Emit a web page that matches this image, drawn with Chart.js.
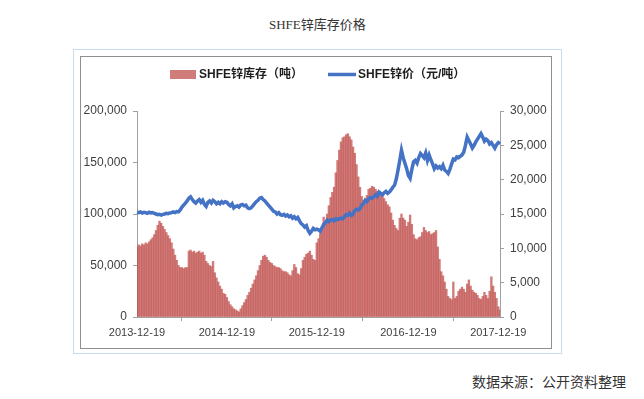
<!DOCTYPE html>
<html>
<head>
<meta charset="utf-8">
<script src="https://cdn.jsdelivr.net/npm/chart.js@4/dist/chart.umd.min.js"></script>
<style>
  body { margin: 0; background: #fff; }
  #page { position: relative; width: 644px; height: 399px; overflow: hidden; background: #fff; }
  #title { position: absolute; left: 269px; top: 17px; font: 13px/16px 'Liberation Serif', 'Noto Sans CJK SC', serif; color: #333; white-space: nowrap; }
  #source { position: absolute; right: 18px; top: 373px; font: 14px/16px 'Noto Sans CJK SC', sans-serif; color: #333; white-space: nowrap; }
  #outer { position: absolute; left: 73px; top: 49px; width: 489px; height: 305px; box-sizing: border-box; border: 1px solid #c9dcee; }
  #inner { position: absolute; left: 80px; top: 56px; width: 472px; height: 293px; box-sizing: border-box; border: 1px solid #8f8f8f; }
  #chartBox { position: absolute; left: 81px; top: 57px; width: 470px; height: 291px; }
</style>
</head>
<body>
<div id="page">
  <div id="title">SHFE锌库存价格</div>
  <div id="outer"></div>
  <div id="inner"></div>
  <div id="chartBox"><canvas id="zincChart" width="470" height="291"></canvas></div>
  <div id="source">数据来源：公开资料整理</div>
</div>
<script>
// weekly readings, 2013-12-19 .. 2017-12-19
let stockTons = [
  68000, 70000, 69000, 71000, 70000, 72000, 71000, 73000, 75000, 77000,
  80000, 84000, 89000, 93000, 91000, 88000, 85000, 82000, 79000, 76000,
  72000, 66000, 60000, 55000, 50000, 48000, 48000, 47000, 48000, 48000,
  64000, 65000, 63000, 64000, 62000, 63000, 64000, 62000, 63000, 60000,
  54000, 52000, 50000, 49000, 54000, 43000, 38000, 34000, 30000, 27000,
  23000, 22000, 19000, 15000, 12000, 10000, 8000, 7000, 6000, 5000,
  8000, 11000, 14000, 17000, 21000, 24000, 28000, 32000, 36000, 40000,
  45000, 50000, 55000, 59000, 60000, 58000, 55000, 53000, 52000, 50000,
  49000, 48000, 48000, 47000, 45000, 44000, 44000, 43000, 41000, 40000,
  45000, 51000, 48000, 42000, 41000, 47000, 55000, 58000, 61000, 62000,
  64000, 60000, 56000, 55000, 72000, 76000, 81000, 85000, 97000, 91000,
  100000, 108000, 116000, 121000, 126000, 140000, 152000, 162000, 170000, 174000,
  175000, 177000, 178000, 175000, 172000, 165000, 159000, 148000, 136000, 126000,
  117000, 113000, 110000, 118000, 124000, 125000, 127000, 126000, 124000, 122000,
  121000, 119000, 117000, 115000, 112000, 109000, 107000, 101000, 94000, 89000,
  86000, 84000, 96000, 100000, 96000, 94000, 88000, 92000, 99000, 90000,
  80000, 76000, 75000, 77000, 78000, 82000, 87000, 84000, 82000, 83000,
  80000, 81000, 82000, 84000, 68000, 56000, 44000, 40000, 34000, 27000,
  20000, 18000, 17000, 34000, 18000, 20000, 25000, 27000, 29000, 27000,
  24000, 32000, 36000, 30000, 26000, 24000, 23000, 21000, 18000, 17000,
  20000, 24000, 21000, 18000, 25000, 39000, 30000, 24000, 18000, 10000,
  7000
];

let priceYuan = [
  15250, 15200, 15300, 15150, 15250, 15200, 15100, 15250, 15150, 15200,
  15100, 15000, 14900, 14950, 14850, 14950, 15000, 15100, 15050, 15150,
  15200, 15300, 15200, 15350, 15300, 15600, 16000, 16300, 16600, 16900,
  17300, 17500, 17100, 16800, 16600, 16900, 17100, 16700, 17000, 16400,
  16100, 16700, 16900, 16600, 17000, 16800, 16500, 16700, 16500, 16800,
  16600, 16800, 16700, 16400, 16200, 16500, 15900, 16100, 16200, 16000,
  16300, 16400, 16200, 16300, 15900, 15800, 15900, 16200, 16500, 16800,
  17000, 17300, 17400, 17100, 16900, 16600, 16300, 16000, 15700, 15400,
  15300, 15000, 15200, 14900, 14800, 14950, 14700, 14850, 14600, 14750,
  14400, 14600, 14300, 14500, 14000, 13600, 13400, 13100, 13300, 12600,
  12200, 12500, 12900, 12700, 12800, 12700, 12500, 13000, 13500, 13700,
  14100, 13900, 14100, 14200, 14000, 14300, 14200, 14300, 14400, 14300,
  14600, 14900, 14800, 15100, 14800, 15000, 15500, 15700, 15600, 15800,
  16300, 16500, 17000, 16800, 17200, 17400, 17300, 17500, 17800, 17600,
  18200, 18000, 17800, 18100, 18300, 18000, 18200, 18500, 18900, 19200,
  20100, 21400, 22800, 24300, 23200, 22400, 21600, 20600, 20200, 21500,
  22600, 22800, 22400, 23200, 23800, 23500, 23200, 23900, 22800, 23600,
  22900, 22300, 21600, 22000, 21700, 21900, 21600, 22100, 21400, 21200,
  20900, 21500, 22300, 23000, 22900, 23300, 23200, 23400, 23600, 24000,
  25000, 26200, 25700, 25200, 24600, 25000, 25500, 25900, 26300, 26700,
  26200, 25600, 25900, 25700, 25200, 25400, 25000, 24600, 25100, 25400,
  25200
];

let tickLabels = ['2013-12-19', '2014-12-19', '2015-12-19', '2016-12-19', '2017-12-19'];
let tickWeeks = [0, 52, 104, 157, 209];

let weeks = [];
let start = new Date(Date.UTC(2013, 11, 19));
for (let i = 0; i < stockTons.length; i++) {
  let d = new Date(start.getTime() + i * 7 * 86400000);
  weeks.push(d.toISOString().slice(0, 10));
}

const stockColor = 'rgba(192, 80, 77, 0.75)';
const priceColor = '#4472C4';
const axisColor = '#a0a0a0';
const tickFont = "'Liberation Sans', Arial, sans-serif";

// legend drawn by hand: red box + blue line across the top
const topLegend = {
  id: 'topLegend',
  afterDraw(chart) {
    let ctx = chart.ctx;
    let sets = chart.data.datasets;
    ctx.save();
    ctx.fillStyle = stockColor;
    ctx.fillRect(89, 13, 26, 9);
    ctx.strokeStyle = priceColor;
    ctx.lineWidth = 3.5;
    ctx.beginPath();
    ctx.moveTo(247, 17.5);
    ctx.lineTo(275, 17.5);
    ctx.stroke();
    ctx.fillStyle = '#1e1e1e';
    ctx.font = "bold 12px 'Liberation Sans', Arial, 'Noto Sans CJK SC', sans-serif";
    ctx.textBaseline = 'middle';
    ctx.fillText(sets[0].label, 118, 18);
    ctx.fillText(sets[1].label, 277, 18);
    ctx.restore();
  }
};

let zinc = document.getElementById('zincChart').getContext('2d');
let zincChart = new Chart(zinc, {
  type: 'bar',
  data: {
    labels: weeks,
    datasets: [{
      type: 'bar',
      label: 'SHFE锌库存（吨）',
      data: stockTons,
      backgroundColor: stockColor,
      borderWidth: 0,
      barPercentage: 1,
      categoryPercentage: 1,
      yAxisID: 'y',
      order: 2
    }, {
      type: 'line',
      label: 'SHFE锌价（元/吨）',
      data: priceYuan,
      borderColor: priceColor,
      borderWidth: 3.5,
      pointRadius: 0,
      tension: 0,
      yAxisID: 'y1',
      order: 1
    }]
  },
  options: {
    responsive: false,
    animation: false,
    devicePixelRatio: 1,
    layout: { padding: { top: 54, left: 0, right: 0, bottom: 0 } },
    plugins: {
      legend: { display: false },
      tooltip: { enabled: false }
    },
    scales: {
      x: {
        offset: false,
        grid: { display: true, drawOnChartArea: false, drawTicks: true, tickLength: 4, color: axisColor },
        border: { color: axisColor },
        afterBuildTicks: (s) => { s.ticks = tickWeeks.map(v => ({ value: v })); },
        afterFit: (s) => { s.height = 31; },
        ticks: {
          autoSkip: false,
          maxRotation: 0,
          padding: 5,
          color: '#404040',
          font: { family: tickFont, size: 11 },
          callback: (v, i) => tickLabels[i]
        }
      },
      y: {
        position: 'left',
        min: 0,
        max: 200000,
        afterFit: (s) => { s.width = 56; },
        grid: { display: true, drawOnChartArea: false, drawTicks: true, tickLength: 4, color: axisColor },
        border: { color: axisColor },
        ticks: { stepSize: 50000, padding: 6, color: '#404040', font: { family: tickFont, size: 12 } }
      },
      y1: {
        position: 'right',
        min: 0,
        max: 30000,
        afterFit: (s) => { s.width = 51; },
        grid: { display: true, drawOnChartArea: false, drawTicks: true, tickLength: 4, color: axisColor },
        border: { color: axisColor },
        ticks: { stepSize: 5000, padding: 6, color: '#404040', font: { family: tickFont, size: 12 } }
      }
    }
  },
  plugins: [topLegend]
});
</script>
</body>
</html>
